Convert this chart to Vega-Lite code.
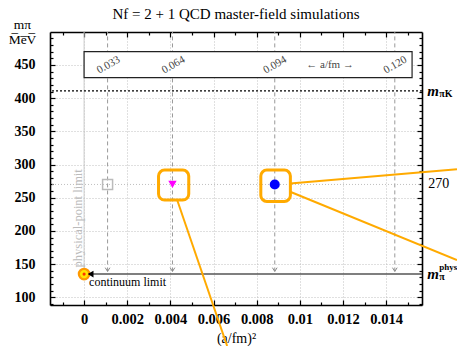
{
  "$schema": "https://vega.github.io/schema/vega-lite/v6.json",
  "autosize": "none",
  "width": 372,
  "height": 273,
  "padding": {"left": 50, "top": 32, "right": 35, "bottom": 41},
  "background": "white",
  "config": {
    "view": {"stroke": null},
    "font": "Liberation Serif",
    "text": {"font": "Liberation Serif"}
  },
  "title": {
    "text": "Nf = 2 + 1 QCD master-field simulations",
    "font": "Liberation Serif",
    "fontSize": 15,
    "fontWeight": "normal",
    "color": "black",
    "anchor": "middle",
    "baseline": "alphabetic",
    "offset": 0,
    "dy": 17
  },
  "resolve": {"axis": {"x": "independent", "y": "independent"}},
  "encoding": {
    "x": {"field": "x", "type": "quantitative", "scale": {"domain": [-0.00158, 0.01566], "nice": false, "zero": false}, "axis": null},
    "y": {"field": "y", "type": "quantitative", "scale": {"domain": [88.4, 499.7], "nice": false, "zero": false}, "axis": null}
  },
  "layer": [
    {
      "data": {"values": [{"x": 0, "y": 135, "y2": 499.7}]},
      "mark": {"type": "rule", "color": "#cccccc", "strokeWidth": 1},
      "encoding": {
        "x": {"field": "x", "type": "quantitative", "scale": {"domain": [-0.00158, 0.01566], "nice": false, "zero": false},
          "axis": {
            "orient": "bottom",
            "values": [-0.001, 0, 0.001, 0.002, 0.003, 0.004, 0.005, 0.006, 0.007, 0.008, 0.009, 0.01, 0.011, 0.012, 0.013, 0.014, 0.015],
            "labelExpr": "abs(round(datum.value*1000)) % 2 == 0 ? format(datum.value, '~g') : ''",
            "tickSize": {"condition": {"test": "abs(round(datum.value*1000)) % 2 == 0", "value": -5}, "value": -3},
            "grid": true,
            "gridOpacity": {"condition": {"test": "abs(round(datum.value*1000)) % 2 == 0", "value": 1}, "value": 0},
            "gridDash": [1, 2], "gridColor": "#b0b0b0", "gridWidth": 0.8,
            "domainColor": "black", "domainWidth": 1.6, "tickColor": "black", "tickWidth": 1.2,
            "labelFont": "Liberation Serif", "labelFontWeight": "bold", "labelFontSize": 14.5, "labelColor": "black",
            "labelPadding": 12, "labelOverlap": false, "labelFlush": false,
            "title": "(a/fm)²", "titleFont": "Liberation Serif", "titleFontWeight": "normal", "titleFontSize": 14, "titleColor": "black",
            "titleBaseline": "alphabetic", "titleY": 37
          }},
        "y": {"field": "y", "type": "quantitative", "scale": {"domain": [88.4, 499.7], "nice": false, "zero": false},
          "axis": {
            "orient": "left",
            "values": [90, 100, 110, 120, 130, 140, 150, 160, 170, 180, 190, 200, 210, 220, 230, 240, 250, 260, 270, 280, 290, 300, 310, 320, 330, 340, 350, 360, 370, 380, 390, 400, 410, 420, 430, 440, 450, 460, 470, 480, 490],
            "labelExpr": "datum.value % 50 == 0 ? datum.value : ''",
            "tickSize": {"condition": {"test": "datum.value % 50 == 0", "value": -5}, "value": -3},
            "grid": true,
            "gridOpacity": {"condition": {"test": "datum.value % 50 == 0", "value": 1}, "value": 0},
            "gridDash": [1, 2], "gridColor": "#b0b0b0", "gridWidth": 0.8,
            "domainColor": "black", "domainWidth": 1.6, "tickColor": "black", "tickWidth": 1.2,
            "labelFont": "Liberation Serif", "labelFontWeight": "bold", "labelFontSize": 14, "labelColor": "black",
            "labelPadding": 20, "labelOverlap": false, "labelFlush": false,
            "title": ["mπ", "M̅e̅V̅"], "titleFont": "Liberation Serif", "titleFontWeight": "normal", "titleFontSize": 13.5, "titleColor": "black",
            "titleAngle": 0, "titleAlign": "center", "titleBaseline": "alphabetic", "titleX": -28, "titleY": -4, "titleLineHeight": 15
          }},
        "y2": {"field": "y2"}
      }
    },
    {
      "data": {"values": [
        {"x": 0.001089, "y": 139, "y2": 499.7},
        {"x": 0.004096, "y": 139, "y2": 499.7},
        {"x": 0.008836, "y": 139, "y2": 499.7},
        {"x": 0.0144, "y": 139, "y2": 499.7}
      ]},
      "mark": {"type": "rule", "color": "#999999", "strokeWidth": 1, "strokeDash": [4, 3]},
      "encoding": {
        "x": {"field": "x", "type": "quantitative", "scale": {"domain": [-0.00158, 0.01566], "nice": false, "zero": false},
          "axis": {
            "orient": "top",
            "values": [-0.001, 0, 0.001, 0.002, 0.003, 0.004, 0.005, 0.006, 0.007, 0.008, 0.009, 0.01, 0.011, 0.012, 0.013, 0.014, 0.015],
            "labels": false, "grid": false, "title": null,
            "tickSize": {"condition": {"test": "abs(round(datum.value*1000)) % 2 == 0", "value": -5}, "value": -3},
            "domainColor": "black", "domainWidth": 1.6, "tickColor": "black", "tickWidth": 1.2
          }},
        "y": {"field": "y", "type": "quantitative", "scale": {"domain": [88.4, 499.7], "nice": false, "zero": false},
          "axis": {
            "orient": "right",
            "values": [90, 100, 110, 120, 130, 140, 150, 160, 170, 180, 190, 200, 210, 220, 230, 240, 250, 260, 270, 280, 290, 300, 310, 320, 330, 340, 350, 360, 370, 380, 390, 400, 410, 420, 430, 440, 450, 460, 470, 480, 490],
            "labels": false, "grid": false, "title": null,
            "tickSize": {"condition": {"test": "datum.value % 50 == 0", "value": -5}, "value": -3},
            "domainColor": "black", "domainWidth": 1.6, "tickColor": "black", "tickWidth": 1.2
          }},
        "y2": {"field": "y2"}
      }
    },
    {
      "data": {"values": [
        {"x": 0.001089, "y": 139},
        {"x": 0.004096, "y": 139},
        {"x": 0.008836, "y": 139},
        {"x": 0.0144, "y": 139}
      ]},
      "mark": {"type": "point", "shape": "M-1,-1.6L0,0L1,-1.6", "filled": false, "stroke": "#888888", "strokeWidth": 1, "size": 22, "opacity": 1}
    },
    {
      "data": {"values": [{"x": 0, "x2": 0.0152, "y": 431, "y2": 470}]},
      "mark": {"type": "rect", "fill": "white", "stroke": "#222222", "strokeWidth": 1.2},
      "encoding": {"x2": {"field": "x2"}, "y2": {"field": "y2"}}
    },
    {
      "data": {"values": [
        {"x": 0.00113, "y": 450, "t": "0.033"},
        {"x": 0.00414, "y": 450, "t": "0.064"},
        {"x": 0.00885, "y": 450, "t": "0.094"},
        {"x": 0.01442, "y": 450, "t": "0.120"}
      ]},
      "mark": {"type": "text", "angle": -30, "fontSize": 11, "color": "#444444", "align": "center", "baseline": "middle"},
      "encoding": {"text": {"field": "t"}}
    },
    {
      "data": {"values": [{"x": 0.0114, "y": 450, "t": "← a/fm →"}]},
      "mark": {"type": "text", "fontSize": 11, "color": "#444444", "align": "center", "baseline": "middle"},
      "encoding": {"text": {"field": "t"}}
    },
    {
      "data": {"values": [{"y": 411}]},
      "mark": {"type": "rule", "color": "black", "strokeWidth": 1.3, "strokeDash": [2, 2]},
      "encoding": {"x": null}
    },
    {
      "data": {"values": [{"y": 270}]},
      "mark": {"type": "rule", "color": "#b0b0b0", "strokeWidth": 0.8, "strokeDash": [1, 2]},
      "encoding": {"x": null}
    },
    {
      "data": {"values": [{"x": 0.0002, "x2": 0.01566, "y": 135}]},
      "mark": {"type": "rule", "color": "#555555", "strokeWidth": 1.5},
      "encoding": {"x2": {"field": "x2"}}
    },
    {
      "data": {"values": [{"x": 0, "y": 135}]},
      "mark": {"type": "point", "shape": "circle", "filled": true, "fill": "#FFE600", "stroke": "#FF9900", "strokeWidth": 2.2, "size": 110, "opacity": 1}
    },
    {
      "data": {"values": [{"x": 0, "y": 135}]},
      "mark": {"type": "point", "shape": "circle", "filled": true, "fill": "#FF3300", "size": 10, "opacity": 1}
    },
    {
      "data": {"values": [{"x": 0.0003, "y": 135}]},
      "mark": {"type": "point", "shape": "triangle-left", "filled": true, "fill": "black", "size": 45, "opacity": 1}
    },
    {
      "data": {"values": [{"x": 0.001089, "y": 270}]},
      "mark": {"type": "point", "shape": "square", "filled": false, "stroke": "#bbbbbb", "strokeWidth": 1.5, "size": 100, "opacity": 1}
    },
    {
      "data": {"values": [{"x": 0.004096, "y": 270}]},
      "mark": {"type": "point", "shape": "triangle-down", "filled": true, "fill": "#FF00FF", "size": 70, "opacity": 1}
    },
    {
      "data": {"values": [{"x": 0.008836, "y": 270}]},
      "mark": {"type": "point", "shape": "circle", "filled": true, "fill": "#0000FF", "size": 100, "opacity": 1}
    },
    {
      "data": {"values": [{"x": 0.00023, "y": 123, "t": "continuum limit"}]},
      "mark": {"type": "text", "fontSize": 12, "color": "black", "align": "left", "baseline": "middle"},
      "encoding": {"text": {"field": "t"}}
    },
    {
      "data": {"values": [{"x": -0.0003, "y": 219, "t": "physical-point limit"}]},
      "mark": {"type": "text", "fontSize": 12.5, "color": "#bbbbbb", "align": "center", "baseline": "middle", "angle": -90},
      "encoding": {"text": {"field": "t"}}
    },
    {
      "data": {"values": [{"x": 0.0159, "y": 411, "t": "m"}, {"x": 0.0159, "y": 135, "t": "m"}]},
      "mark": {"type": "text", "fontSize": 15, "fontStyle": "italic", "fontWeight": "bold", "color": "black", "align": "left", "baseline": "middle"},
      "encoding": {"text": {"field": "t"}}
    },
    {
      "data": {"values": [{"x": 0.0159, "y": 411, "t": "πK"}, {"x": 0.0159, "y": 135, "t": "π"}]},
      "mark": {"type": "text", "fontSize": 10, "fontWeight": "bold", "color": "black", "align": "left", "baseline": "middle", "dx": 12, "dy": 3},
      "encoding": {"text": {"field": "t"}}
    },
    {
      "data": {"values": [{"x": 0.0159, "y": 135, "t": "phys"}]},
      "mark": {"type": "text", "fontSize": 9, "fontWeight": "bold", "color": "black", "align": "left", "baseline": "middle", "dx": 12, "dy": -7},
      "encoding": {"text": {"field": "t"}}
    },
    {
      "data": {"values": [{"x": 0.0159, "y": 270, "t": "270"}]},
      "mark": {"type": "text", "fontSize": 14, "color": "black", "align": "left", "baseline": "middle", "dx": 1},
      "encoding": {"text": {"field": "t"}}
    },
    {
      "data": {"values": [
        {"x": 0.00345, "x2": 0.00485, "y": 246.5, "y2": 291.7},
        {"x": 0.00819, "x2": 0.00956, "y": 244.5, "y2": 291.7}
      ]},
      "mark": {"type": "rect", "fill": null, "fillOpacity": 0, "stroke": "#FFAA00", "strokeWidth": 3, "cornerRadius": 6},
      "encoding": {"x2": {"field": "x2"}, "y2": {"field": "y2"}}
    },
    {
      "data": {"values": [
        {"seg": 1, "o": 1, "x": 0.00431, "y": 247},
        {"seg": 1, "o": 2, "x": 0.00663, "y": 26.7},
        {"seg": 2, "o": 1, "x": 0.00955, "y": 271.6},
        {"seg": 2, "o": 2, "x": 0.01728, "y": 292.8},
        {"seg": 3, "o": 1, "x": 0.00955, "y": 259},
        {"seg": 3, "o": 2, "x": 0.01728, "y": 156.2}
      ]},
      "mark": {"type": "line", "color": "#FFAA00", "strokeWidth": 2, "clip": false},
      "encoding": {"detail": {"field": "seg", "type": "nominal"}, "order": {"field": "o", "type": "quantitative"}}
    }
  ]
}
